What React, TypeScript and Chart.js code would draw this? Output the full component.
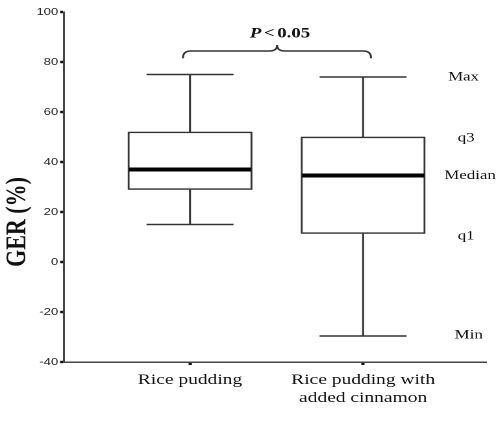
import React, { useEffect, useRef } from 'react';
import { Chart, registerables } from 'chart.js';

Chart.register(...registerables);

// ---- data ----
const categories: (string | string[])[] = ['Rice pudding', ['Rice pudding with', 'added cinnamon']];
const maxValues = [75, 74];
const q3Values = [52, 50];
const medianValues = [37, 34.6];
const q1Values = [29, 11.4];
const minValues = [15, -29.6];
const statLabels = ['Max', 'q3', 'Median', 'q1', 'Min'];
const yMin = -40;
const yMax = 100;
const yStep = 20;
const yTitle = 'GER (%)';
const pLabel = ['P', '<', '0.05'];

// The reference picture is horizontally stretched; we render narrower and stretch.
const W = 382;
const H = 427;
const STRETCH = 496 / W;

const boxPlugin = {
  id: 'boxExtras',
  afterDatasetsDraw(chart: any) {
    const { ctx, scales } = chart;
    const x = scales.x;
    const y = scales.y;
    ctx.save();
    const boxHalf = 47.75;
    const capHalf = 33.5;
    categories.forEach((_, i) => {
      const cx = x.getPixelForValue(i + 1);
      const pMax = y.getPixelForValue(maxValues[i]);
      const pQ3 = y.getPixelForValue(q3Values[i]);
      const pQ1 = y.getPixelForValue(q1Values[i]);
      const pMin = y.getPixelForValue(minValues[i]);
      const pMed = y.getPixelForValue(medianValues[i]);
      ctx.strokeStyle = '#333';
      ctx.lineWidth = 1.5;
      ctx.beginPath();
      ctx.moveTo(cx, pQ3);
      ctx.lineTo(cx, pMax);
      ctx.moveTo(cx, pQ1);
      ctx.lineTo(cx, pMin);
      ctx.moveTo(cx - capHalf, pMax);
      ctx.lineTo(cx + capHalf, pMax);
      ctx.moveTo(cx - capHalf, pMin);
      ctx.lineTo(cx + capHalf, pMin);
      ctx.stroke();
      ctx.strokeStyle = '#000';
      ctx.lineWidth = 4;
      ctx.beginPath();
      ctx.moveTo(cx - boxHalf + 0.75, pMed);
      ctx.lineTo(cx + boxHalf - 0.75, pMed);
      ctx.stroke();
    });

    // significance brace
    const L = x.getPixelForValue(0.959);
    const R = x.getPixelForValue(2.046);
    const M = x.getPixelForValue(1.503);
    const yE = y.getPixelForValue(81.5);
    const yH = y.getPixelForValue(84.4);
    const yT = y.getPixelForValue(86.8);
    const r = 6;
    ctx.strokeStyle = '#333';
    ctx.lineWidth = 1.5;
    ctx.beginPath();
    ctx.moveTo(L, yE);
    ctx.quadraticCurveTo(L, yH, L + r, yH);
    ctx.lineTo(M - r, yH);
    ctx.quadraticCurveTo(M, yH, M, yT);
    ctx.quadraticCurveTo(M, yH, M + r, yH);
    ctx.lineTo(R - r, yH);
    ctx.quadraticCurveTo(R, yH, R, yE);
    ctx.stroke();

    // P label
    const pc = x.getPixelForValue(1.52);
    const py = y.getPixelForValue(91.4);
    ctx.fillStyle = '#111';
    ctx.textBaseline = 'middle';
    ctx.textAlign = 'left';
    const fonts = ['italic bold 14.5px "Liberation Serif"', 'bold 14.5px "Liberation Serif"', 'bold 14.5px "Liberation Serif"'];
    const gap = 2;
    const widths = pLabel.map((t, k) => {
      ctx.font = fonts[k];
      return ctx.measureText(t).width;
    });
    const total = widths.reduce((a, b) => a + b, 0) + gap * (pLabel.length - 1);
    let sx = pc - total / 2;
    pLabel.forEach((t, k) => {
      ctx.font = fonts[k];
      ctx.fillText(t, sx, py);
      sx += widths[k] + gap;
    });

    // stat labels, aligned to the second box
    const statVals = [maxValues[1], q3Values[1], medianValues[1], q1Values[1], minValues[1]];
    const nudge = [0, 1, 0, 2.5, -1];
    const xs = [357, 359, 362, 359, 361];
    ctx.font = '13px "Liberation Serif"';
    ctx.textAlign = 'center';
    ctx.fillStyle = '#111';
    statLabels.forEach((t, k) => {
      ctx.fillText(t, xs[k], y.getPixelForValue(statVals[k]) + nudge[k]);
    });

    ctx.restore();
  },
  afterDraw(chart: any) {
    const { ctx } = chart;
    ctx.save();
    ctx.translate(14, 222);
    ctx.rotate(-Math.PI / 2);
    ctx.font = 'bold 22px "Liberation Serif"';
    ctx.fillStyle = '#111';
    ctx.textAlign = 'center';
    ctx.textBaseline = 'middle';
    ctx.fillText(yTitle, 0, 0);
    ctx.restore();
  },
};

export default function App() {
  const ref = useRef<HTMLCanvasElement>(null);
  useEffect(() => {
    if (!ref.current) return;
    const chart = new Chart(ref.current, {
      type: 'bar',
      data: {
        datasets: [
          {
            data: categories.map((_, i) => ({ x: i + 1, y: [q1Values[i], q3Values[i]] })) as any,
            backgroundColor: '#fff',
            borderColor: '#333',
            borderWidth: 1.5,
            borderSkipped: false,
            barThickness: 95.5,
          } as any,
        ],
      },
      options: {
        animation: false,
        responsive: true,
        maintainAspectRatio: false,
        devicePixelRatio: 2,
        layout: { padding: { top: 12, right: 7.7, bottom: 0, left: 0 } },
        plugins: {
          legend: { display: false },
          tooltip: { enabled: false },
          title: { display: false },
        },
        scales: {
          x: {
            type: 'linear',
            min: 0.272,
            max: 2.71,
            offset: false,
            afterBuildTicks: (s: any) => {
              s.ticks = categories.map((_, i) => ({ value: i + 1 }));
            },
            afterFit: (s: any) => {
              s.height = 65;
            },
            ticks: {
              callback: (v: any) => categories[Math.round(Number(v)) - 1] as any,
              font: { family: 'Liberation Serif', size: 15 },
              color: '#111',
              padding: 6,
              maxRotation: 0,
              autoSkip: false,
            },
            grid: {
              offset: false,
              drawOnChartArea: false,
              drawTicks: true,
              tickLength: 3,
              tickWidth: 2.5,
              tickColor: '#111',
            },
            border: { display: true, color: '#444', width: 1.5 },
          } as any,
          y: {
            min: yMin,
            max: yMax,
            afterFit: (s: any) => {
              s.width = 49.3;
            },
            ticks: {
              stepSize: yStep,
              font: { family: 'Liberation Sans', size: 10 },
              color: '#222',
              padding: 1.5,
            },
            grid: {
              drawOnChartArea: false,
              drawTicks: true,
              tickLength: 3,
              tickWidth: 2.5,
              tickColor: '#111',
            },
            border: { display: true, color: '#444', width: 1.5 },
          },
        },
      },
      plugins: [boxPlugin],
    });
    return () => chart.destroy();
  }, []);
  return (
    <div
      style={{
        position: 'absolute',
        left: 0,
        top: 0,
        width: W,
        height: H,
        transform: `scaleX(${STRETCH})`,
        transformOrigin: '0 0',
      }}
    >
      <canvas ref={ref} />
    </div>
  );
}
